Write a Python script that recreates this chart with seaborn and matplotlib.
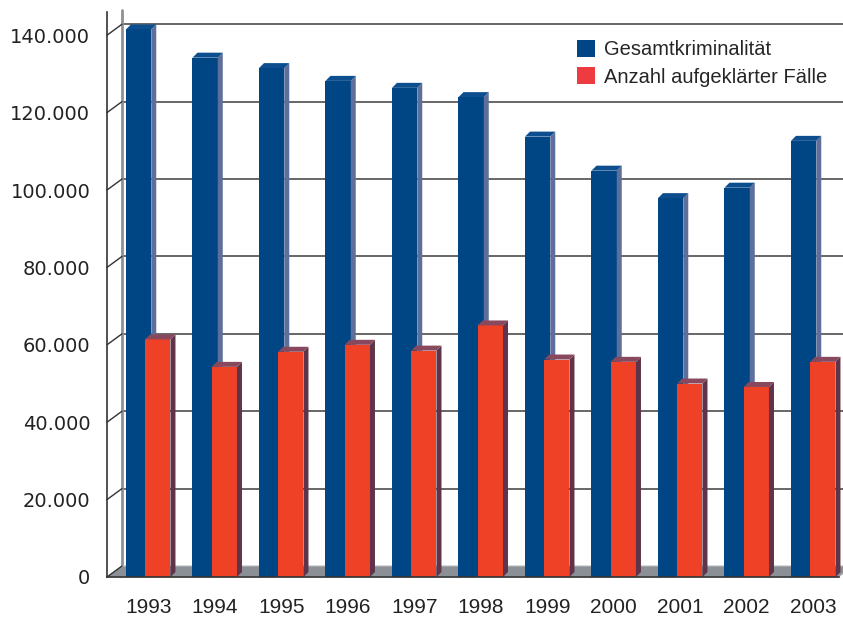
import numpy as np
import pandas as pd
import matplotlib
matplotlib.use('Agg')
import matplotlib.pyplot as plt
import seaborn as sns
from matplotlib.patches import Polygon, Patch
from matplotlib.lines import Line2D
from matplotlib.transforms import IdentityTransform
from matplotlib.ticker import FuncFormatter

# Daten
jahre = ['1993', '1994', '1995', '1996', '1997', '1998',
         '1999', '2000', '2001', '2002', '2003']
gesamt = [141500, 134200, 131500, 128200, 126400, 124000,
          113800, 105000, 97900, 100600, 112700]
aufgeklaert = [61400, 54300, 58200, 60000, 58500, 65000,
               56200, 55600, 50000, 49100, 55600]
serien = ['Gesamtkriminalität', 'Anzahl aufgeklärter Fälle']
y_ticks = [0, 20000, 40000, 60000, 80000, 100000, 120000, 140000]

# Farben
blau, blau_seite, blau_oben = '#004584', '#5e6f9b', '#0d4e8e'
rot, rot_seite, rot_oben = '#ee4126', '#5f3349', '#88495f'
rot_legende = '#ee3b42'
boden = '#8a9096'
wand = '#8d9297'
linie = '#333333'

sns.set_style('white')
plt.rcParams['font.family'] = ['DejaVu Sans']

W, H = 843, 617
fig = plt.figure(figsize=(W / 100, H / 100), dpi=100)
ax = fig.add_axes([107 / W, 40 / H, (838.5 - 107) / W, 565 / H])
ax.patch.set_alpha(0)

df = pd.DataFrame({
    'Jahr': jahre * 2,
    'Wert': gesamt + aufgeklaert,
    'Serie': [serien[0]] * len(jahre) + [serien[1]] * len(jahre),
})
sns.barplot(data=df, x='Jahr', y='Wert', hue='Serie', palette=[blau, rot],
            width=0.76, saturation=1, errorbar=None, legend=False, ax=ax)

ax.set_xlim(-0.62, len(jahre) - 0.62)
ax.set_ylim(0, 146000)
ax.set_autoscale_on(False)

# 3D-Versatz in Pixeln
tiefe_wand = (15, 11)
tiefe_balken = 5


def px(x, y):
    return ax.transData.transform((x, y))


# Boden
x_links, x_rechts = ax.get_xlim()
fl = px(x_links, 0)
fr = px(x_rechts, 0)
ax.add_patch(Polygon([fl, fr, fr + tiefe_wand, fl + tiefe_wand],
                     closed=True, facecolor=boden, edgecolor='#b8bcc0',
                     lw=0.8, transform=IdentityTransform(), clip_on=False,
                     zorder=1))

# Rückwand: Gitterlinien und Verbindungen zur Achse
for v in y_ticks:
    p = px(x_links, v)
    q = p + tiefe_wand
    ax.add_line(Line2D([p[0], q[0]], [p[1], q[1]], color=linie, lw=1,
                       transform=IdentityTransform(), clip_on=False, zorder=1.5))
    if v > 0:
        ax.add_line(Line2D([q[0], W + 20], [q[1], q[1]], color='#5a5a5a',
                           lw=1.3, transform=IdentityTransform(),
                           clip_on=False, zorder=0.5))
ax.add_line(Line2D([fl[0] + tiefe_wand[0]] * 2, [fl[1] + tiefe_wand[1], H - 10],
                   color=wand, lw=2, transform=IdentityTransform(),
                   clip_on=False, zorder=0.6))

# Balken: Überlappung und Seiten-/Deckflächen
for i, (cont, seite, oben) in enumerate(zip(ax.containers,
                                              [blau_seite, rot_seite],
                                              [blau_oben, rot_oben])):
    z = 3 + i
    for b in cont:
        w = b.get_width()
        b.set_x(b.get_x() + (0.12 * w if i == 0 else -0.12 * w))
        b.set_zorder(z)
        b.set_edgecolor('none')
        x0, y0 = px(b.get_x(), 0)
        x1, y1 = px(b.get_x() + w, b.get_height())
        d = tiefe_balken
        ax.add_patch(Polygon([(x1, y0), (x1 + d, y0 + d), (x1 + d, y1 + d), (x1, y1)],
                             closed=True, facecolor=seite, edgecolor='none',
                             transform=IdentityTransform(), clip_on=False,
                             zorder=z + 0.5))
        ax.add_patch(Polygon([(x0, y1), (x0 + d, y1 + d), (x1 + d, y1 + d), (x1, y1)],
                             closed=True, facecolor=oben, edgecolor='none',
                             transform=IdentityTransform(), clip_on=False,
                             zorder=z + 0.5))

# Achsen
sns.despine(ax=ax, top=True, right=True)
for s in ['left', 'bottom']:
    ax.spines[s].set_color(linie)
    ax.spines[s].set_linewidth(1.2)
    ax.spines[s].set_zorder(6)

ax.set_yticks(y_ticks)
ax.yaxis.set_major_formatter(FuncFormatter(lambda v, pos: f'{int(v):,}'.replace(',', '.')))
ax.tick_params(axis='y', length=6.5, width=1, color=linie, pad=5.5,
               labelsize=14, labelcolor='#222222')

ax.set_xticks(range(len(jahre)))
ax.set_xticklabels(jahre, fontfamily='Liberation Sans', fontsize=15, color='#222222')
ax.set_xticks(np.arange(len(jahre) + 1) - 0.62, minor=True)
ax.tick_params(axis='x', which='major', length=0, pad=15)
ax.tick_params(axis='x', which='minor', length=8, width=1, color=linie)
ax.set_xlabel('')
ax.set_ylabel('')
ax.grid(False)

# Legende
handles = [Patch(facecolor=blau, edgecolor='none'),
           Patch(facecolor=rot_legende, edgecolor='none')]
fig.legend(handles, serien, loc='upper left', bbox_to_anchor=(577 / W, 1 - 40 / H),
           frameon=False, prop={'family': 'Liberation Sans', 'size': 14.5},
           handlelength=0.9, handleheight=0.9, handletextpad=0.45,
           labelspacing=0.4, borderpad=0, borderaxespad=0)

fig.savefig('out.png', dpi=100)
